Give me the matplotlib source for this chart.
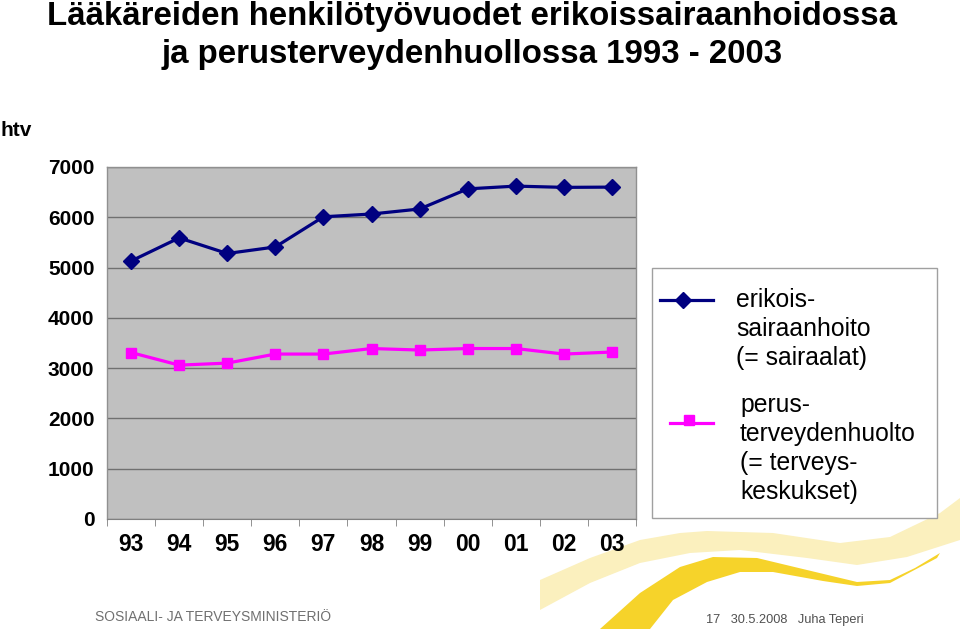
import matplotlib.pyplot as plt
from matplotlib.lines import Line2D
from matplotlib.patches import Polygon, Rectangle

plt.rcParams['font.family'] = ['Liberation Sans', 'DejaVu Sans']

years = ['93', '94', '95', '96', '97', '98', '99', '00', '01', '02', '03']
erikois = [5130, 5590, 5280, 5410, 6010, 6065, 6165, 6565, 6620, 6595, 6600]
perus = [3310, 3060, 3100, 3280, 3280, 3390, 3360, 3390, 3390, 3280, 3320]
yticks = [0, 1000, 2000, 3000, 4000, 5000, 6000, 7000]

W, H = 960, 629


def fx(x):
    return x / W


def fy(y):
    return 1 - y / H


fig = plt.figure(figsize=(9.6, 6.29), dpi=100)

# yellow swoosh decoration (bottom right), pixel coords from top-left
light = [(540, 580), (590, 558), (640, 540), (680, 533), (707, 531), (773, 533), (840, 543),
         (890, 537), (940, 513), (960, 498), (960, 540), (907, 557), (857, 565), (807, 558),
         (740, 550), (690, 553), (640, 563), (590, 583), (540, 610)]
dark = [(600, 629), (640, 593), (680, 567), (713, 557), (757, 558), (807, 570), (857, 582),
        (890, 580), (915, 568), (940, 553), (937, 558), (890, 583), (857, 586), (823, 581),
        (773, 572), (740, 572), (707, 582), (673, 600), (650, 629)]
fig.patches.append(Polygon([(fx(a), fy(b)) for a, b in light], closed=True, transform=fig.transFigure,
                           facecolor='#FBF0BE', edgecolor='none', zorder=-2))
fig.patches.append(Polygon([(fx(a), fy(b)) for a, b in dark], closed=True, transform=fig.transFigure,
                           facecolor='#F6D32A', edgecolor='none', zorder=-1))

ax = fig.add_axes([fx(107), fy(519), fx(636 - 107), (519 - 167) / H])
ax.set_facecolor('#C0C0C0')
x = list(range(len(years)))
ax.plot(x, erikois, color='#000080', lw=2.3, marker='D', ms=8, zorder=3)
ax.plot(x, perus, color='#FF00FF', lw=2.3, marker='s', ms=7, zorder=3)

ax.set_xlim(-0.5, len(years) - 0.5)
ax.set_ylim(0, 7000)
ax.set_yticks(yticks)
ax.set_yticklabels([str(v) for v in yticks], fontsize=15, fontweight='bold')
ax.set_xticks(x)
ax.set_xticklabels(years, fontsize=16.5, fontweight='bold')
ax.tick_params(axis='y', length=0, pad=9)
ax.tick_params(axis='x', length=0, pad=10)
ax.set_xticks([i + 0.5 for i in range(-1, len(years))], minor=True)
ax.tick_params(axis='x', which='minor', length=5, direction='out', color='#808080')
ax.grid(axis='y', color='#707070', lw=1)
ax.set_axisbelow(True)
for s in ['left', 'top', 'right']:
    ax.spines[s].set_color('#909090')
    ax.spines[s].set_linewidth(1)
ax.spines['bottom'].set_color('#808080')

# title and labels
fig.text(fx(472), fy(16), 'Lääkäreiden henkilötyövuodet erikoissairaanhoidossa', ha='center', va='center',
         fontsize=23.8, fontweight='bold')
fig.text(fx(472), fy(54), 'ja perusterveydenhuollossa 1993 - 2003', ha='center', va='center',
         fontsize=23.8, fontweight='bold')
fig.text(fx(1), fy(131), 'htv', ha='left', va='center', fontsize=15, fontweight='bold')

# legend box
fig.patches.append(Rectangle((fx(652), fy(518)), fx(937 - 652), (518 - 268) / H, transform=fig.transFigure,
                             facecolor='white', edgecolor='#A0A0A0', lw=1, zorder=2))
fig.add_artist(Line2D([fx(660), fx(713)], [fy(300), fy(300)], color='#000080', lw=2.3,
                      transform=fig.transFigure, zorder=3))
fig.add_artist(Line2D([fx(683)], [fy(300)], color='#000080', marker='D', ms=8,
                      transform=fig.transFigure, zorder=3))
fig.add_artist(Line2D([fx(670), fx(713)], [fy(423), fy(423)], color='#FF00FF', lw=2.3,
                      transform=fig.transFigure, zorder=3))
fig.add_artist(Line2D([fx(689)], [fy(420)], color='#FF00FF', marker='s', ms=7,
                      transform=fig.transFigure, zorder=3))
leg1 = ['erikois-', 'sairaanhoito', '(= sairaalat)']
leg2 = ['perus-', 'terveydenhuolto', '(= terveys-', 'keskukset)']
for i, t in enumerate(leg1):
    fig.text(fx(736), fy(300 + 29 * i), t, ha='left', va='center', fontsize=17.8, zorder=4)
for i, t in enumerate(leg2):
    fig.text(fx(740), fy(405 + 29 * i), t, ha='left', va='center', fontsize=17.8, zorder=4)

# footer
fig.text(fx(95), fy(617), 'SOSIAALI- JA TERVEYSMINISTERIÖ', ha='left', va='center', fontsize=10,
         color='#707070')
fig.text(fx(706), fy(620), '17   30.5.2008   Juha Teperi', ha='left', va='center', fontsize=9.2,
         color='#505050')

fig.savefig('out.png', dpi=100)
